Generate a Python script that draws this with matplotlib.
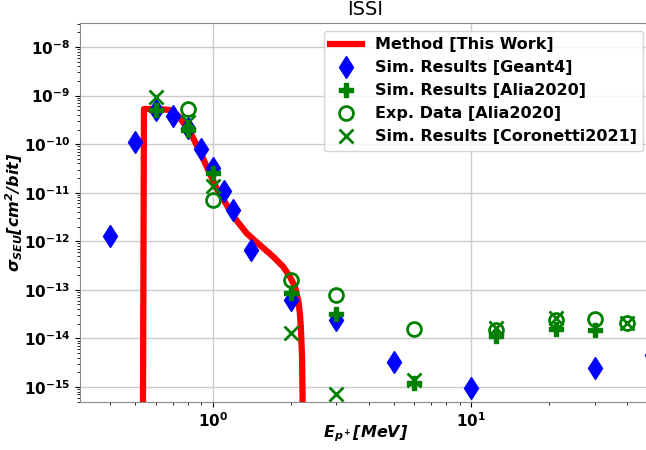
import matplotlib.pyplot as plt

# Method [This Work] curve
method_e = [0.535, 0.541, 0.606, 0.682, 0.734, 0.779, 0.827, 0.891, 0.959, 1.033, 1.13,
            1.216, 1.35, 1.519, 1.711, 1.87, 1.985, 2.075, 2.137, 2.169, 2.189, 2.212, 2.222, 2.225]
method_sigma = [1e-17, 5.29e-10, 5.29e-10, 5.05e-10, 3.85e-10, 2.48e-10, 1.54e-10, 6.98e-11,
                2.94e-11, 1.23e-11, 5.58e-12, 2.97e-12, 1.46e-12, 8.37e-13, 4.81e-13,
                2.99e-13, 1.87e-13, 1.16e-13, 6.18e-14, 3.29e-14, 1.62e-14, 4e-15, 6e-16, 1e-17]

# Sim. Results [Geant4]
geant4_e = [0.4, 0.5, 0.6, 0.7, 0.8, 0.9, 1.0, 1.1, 1.2, 1.4, 2.0, 3.0, 5.0, 10.0, 30.0, 50.0]
geant4_sigma = [1.3e-12, 1.12e-10, 5.0e-10, 3.85e-10, 2.1e-10, 7.8e-11, 3.2e-11, 1.1e-11,
                4.3e-12, 6.6e-13, 6.2e-14, 2.4e-14, 3.2e-15, 9.3e-16, 2.5e-15, 4.5e-15]

# Sim. Results [Alia2020]
alia_sim_e = [0.6, 0.8, 1.0, 2.0, 3.0, 6.0, 12.5, 21.3, 30.0]
alia_sim_sigma = [5.0e-10, 1.95e-10, 2.5e-11, 8.5e-14, 3.2e-14, 1.23e-15, 1.1e-14, 1.55e-14, 1.5e-14]

# Exp. Data [Alia2020]
alia_exp_e = [0.8, 1.0, 2.0, 3.0, 6.0, 12.5, 21.3, 30.0, 40.0]
alia_exp_sigma = [5.2e-10, 7e-12, 1.6e-13, 7.8e-14, 1.55e-14, 1.5e-14, 2.4e-14, 2.5e-14, 2.1e-14]

# Sim. Results [Coronetti2021]
coronetti_e = [0.6, 0.8, 1.0, 2.0, 3.0, 6.0, 12.5, 21.3, 40.0]
coronetti_sigma = [9.2e-10, 2.8e-10, 1.4e-11, 1.3e-14, 7.2e-16, 1.4e-15, 1.6e-14, 2.6e-14, 2.1e-14]

plt.rcParams["font.weight"] = "bold"

fig = plt.figure(figsize=(6.46, 4.5), dpi=100)
ax = fig.add_axes([80 / 646, 48 / 450, 571 / 646, 379 / 450])

ax.plot(method_e, method_sigma, color="red", linewidth=4.5, label="Method [This Work]", zorder=2)
ax.plot(geant4_e, geant4_sigma, linestyle="none", marker="d", markersize=11.5, color="blue",
        label="Sim. Results [Geant4]", zorder=3)
ax.plot(alia_sim_e, alia_sim_sigma, linestyle="none", marker="P", markersize=10, color="green",
        label="Sim. Results [Alia2020]", zorder=4)
ax.plot(alia_exp_e, alia_exp_sigma, linestyle="none", marker="o", markersize=10, markerfacecolor="none",
        markeredgewidth=2, color="green", label="Exp. Data [Alia2020]", zorder=4)
ax.plot(coronetti_e, coronetti_sigma, linestyle="none", marker="x", markersize=9.5, markeredgewidth=2,
        color="green", label="Sim. Results [Coronetti2021]", zorder=4)

ax.set_xscale("log")
ax.set_yscale("log")
ax.set_xlim(0.306, 49.5)
ax.set_ylim(4.9e-16, 3.12e-8)
ax.grid(True, which="major", color="#cccccc", linewidth=1)
ax.set_axisbelow(True)
ax.tick_params(axis="both", which="major", labelsize=11)

ax.set_title("ISSI", fontsize=14, fontweight="normal")
ax.set_xlabel(r"$\mathbfit{E_{p^+}[MeV]}$", fontsize=11.5, labelpad=-5)
ax.set_ylabel(r"$\mathbfit{\sigma_{SEU}[cm^2/bit]}$", fontsize=11.5, labelpad=-1)

for spine in ax.spines.values():
    spine.set_color("#888888")

leg = ax.legend(loc="upper right", prop={"weight": "bold", "size": 11.5}, framealpha=0.8)

plt.savefig("out.png", dpi=100)
